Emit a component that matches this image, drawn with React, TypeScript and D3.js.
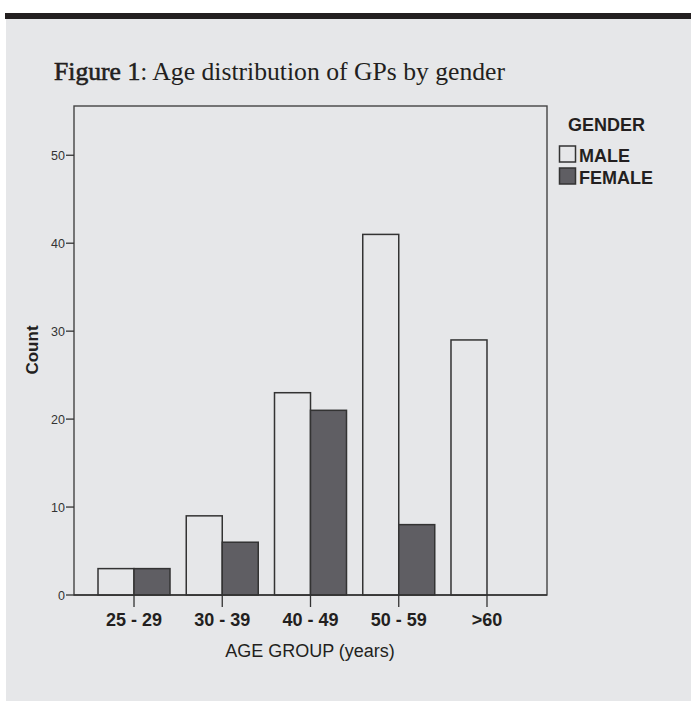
import * as d3 from 'd3'

const categories = ['25 - 29', '30 - 39', '40 - 49', '50 - 59', '>60']
const maleCounts = [3, 9, 23, 41, 29]
const femaleCounts = [3, 6, 21, 8, 0]
const yTicks = [0, 10, 20, 30, 40, 50]
const genders = ['MALE', 'FEMALE']

const W = 691
const H = 701
const plot = { left: 74, right: 547, top: 106, bottom: 595 }
const bg = '#e6e7e9'
const femaleFill = '#5f5e63'
const sans = 'Liberation Sans, Arial, sans-serif'

export default function App() {
	const x = d3
		.scaleBand<string>()
		.domain(categories)
		.range([plot.left, plot.right])
		.paddingInner(0)
		.paddingOuter(0.18)
	const xSub = d3
		.scaleBand<string>()
		.domain(genders)
		.range([-36, 36])
	const y = d3.scaleLinear().domain([0, 55.6]).range([plot.bottom, plot.top])
	const fills = [bg, femaleFill]
	const series = [maleCounts, femaleCounts]

	return (
		<svg
			width={W}
			height={H}
			style={{ position: 'absolute', left: 0, top: 0, display: 'block' }}
		>
			<rect x={0} y={0} width={W} height={H} fill="#fff" />
			<rect x={6} y={19} width={W - 6} height={H - 19} fill={bg} />
			<rect x={5} y={13} width={W - 5} height={6} fill="#231f20" />

			<text
				x={54}
				y={80}
				fontFamily="Liberation Serif, Times New Roman, serif"
				fontSize={26}
				fill="#231f20"
				textLength={451}
				lengthAdjust="spacingAndGlyphs"
			>
				<tspan stroke="#231f20" strokeWidth={0.6}>Figure 1</tspan>: Age distribution of GPs by gender
			</text>

			{/* frame */}
			<rect
				x={plot.left}
				y={plot.top}
				width={plot.right - plot.left}
				height={plot.bottom - plot.top}
				fill="none"
				stroke="#444"
				strokeWidth={1.4}
			/>

			{/* bars */}
			{series.map((vals, si) =>
				categories.map((c, i) => {
					const v = vals[i]
					if (!v) return null
					const cx = (x(c) ?? 0) + x.bandwidth() / 2
					const bx = cx + (xSub(genders[si]) ?? 0)
					return (
						<rect
							key={`${si}-${c}`}
							x={bx}
							y={y(v)}
							width={xSub.bandwidth()}
							height={y(0) - y(v)}
							fill={fills[si]}
							stroke="#333"
							strokeWidth={1.5}
						/>
					)
				})
			)}

			<line
				x1={plot.left}
				x2={plot.right}
				y1={plot.bottom}
				y2={plot.bottom}
				stroke="#333"
				strokeWidth={1.6}
			/>

			{/* y axis */}
			{yTicks.map(t => (
				<g key={t}>
					<line x1={66} x2={plot.left} y1={y(t)} y2={y(t)} stroke="#333" strokeWidth={1.3} />
					<text
						x={65}
						y={y(t) + 4.5}
						textAnchor="end"
						fontFamily={sans}
						fontSize={12.5}
						fill="#333"
					>
						{t}
					</text>
				</g>
			))}
			<text
				transform="translate(38,350) rotate(-90)"
				textAnchor="middle"
				fontFamily={sans}
				fontWeight="bold"
				fontSize={17}
				fill="#231f20"
			>
				Count
			</text>

			{/* x axis */}
			{categories.map(c => {
				const cx = (x(c) ?? 0) + x.bandwidth() / 2
				return (
					<g key={c}>
						<line x1={cx} x2={cx} y1={plot.bottom} y2={607} stroke="#333" strokeWidth={1.3} />
						<text
							x={cx}
							y={626}
							textAnchor="middle"
							fontFamily={sans}
							fontWeight="bold"
							fontSize={18}
							fill="#231f20"
						>
							{c}
						</text>
					</g>
				)
			})}
			<text
				x={310}
				y={657}
				textAnchor="middle"
				fontFamily={sans}
				fontSize={18}
				fill="#231f20"
			>
				AGE GROUP (years)
			</text>

			{/* legend */}
			<text x={568} y={131} fontFamily={sans} fontWeight="bold" fontSize={18} fill="#231f20">
				GENDER
			</text>
			{genders.map((g, i) => (
				<g key={g} transform={`translate(0,${i * 22})`}>
					<rect
						x={559.5}
						y={146}
						width={16}
						height={16}
						fill={fills[i]}
						stroke="#333"
						strokeWidth={1.5}
					/>
					<text x={579} y={162} fontFamily={sans} fontWeight="bold" fontSize={18} fill="#231f20">
						{g}
					</text>
				</g>
			))}
		</svg>
	)
}
